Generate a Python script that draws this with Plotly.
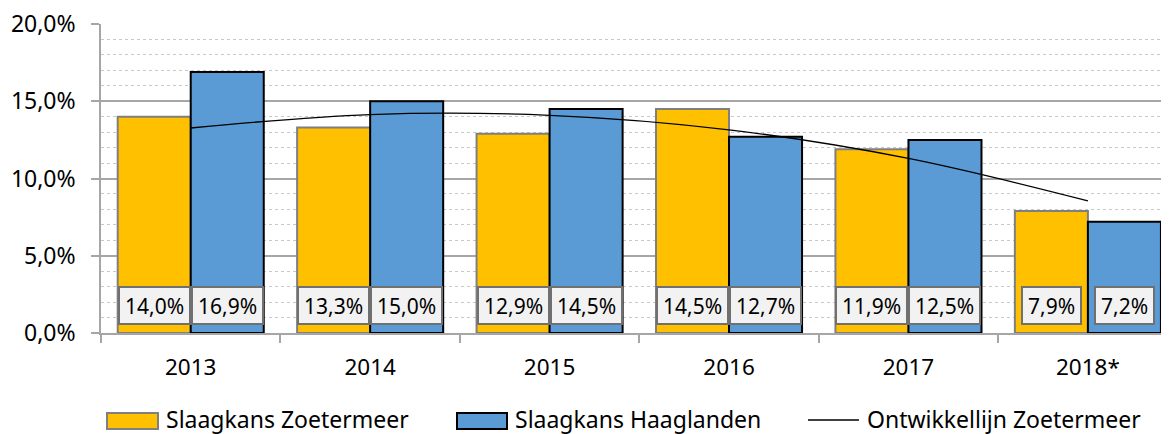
import plotly.graph_objects as go

years = ["2013", "2014", "2015", "2016", "2017", "2018*"]
zoetermeer = [14.0, 13.3, 12.9, 14.5, 11.9, 7.9]
haaglanden = [16.9, 15.0, 14.5, 12.7, 12.5, 7.2]
trend = [13.27, 14.14, 14.09, 13.15, 11.30, 8.55]
y_ticks = [0, 5, 10, 15, 20]
y_ticktext = ["0,0%", "5,0%", "10,0%", "15,0%", "20,0%"]
legend_names = ["Slaagkans Zoetermeer", "Slaagkans Haaglanden", "Ontwikkellijn Zoetermeer"]

YELLOW = "#FFC000"
BLUE = "#5B9BD5"
FONT = "Noto Sans"
FS_LABEL = 21
FS_TICK = 23
FS_YEAR = 22.5
FS_LEG = 23
BW = 0.407
LABEL_Y = 1.75

idx = list(range(len(years)))

def fmt(v):
    return f"{v:.1f}%".replace(".", ",")

fig = go.Figure()
fig.add_trace(go.Bar(x=idx, y=zoetermeer, width=BW, offset=-BW, name=legend_names[0],
                     marker=dict(color=YELLOW, line=dict(color="#7F7F7F", width=2)),
                     showlegend=False, hoverinfo="skip"))
fig.add_trace(go.Bar(x=idx, y=haaglanden, width=BW, offset=0, name=legend_names[1],
                     marker=dict(color=BLUE, line=dict(color="#000000", width=2)),
                     showlegend=False, hoverinfo="skip"))
fig.add_trace(go.Scatter(x=idx, y=trend, mode="lines", name=legend_names[2],
                         line=dict(color="#000000", width=1.3, shape="spline", smoothing=1.0),
                         showlegend=False, hoverinfo="skip"))

for i in idx:
    for val, sign in ((zoetermeer[i], -1), (haaglanden[i], 1)):
        fig.add_annotation(x=i + sign * BW / 2, y=LABEL_Y, xref="x", yref="y",
                           text=fmt(val), showarrow=False, height=25,
                           font=dict(family=FONT, size=FS_LABEL, color="#000000"),
                           bgcolor="#F2F2F2", bordercolor="#707070", borderwidth=2,
                           borderpad=5)

# The page body has an 8px margin: the figure's top-left sits at (8, 8) on the page.
# paper coords: x 0 -> 101px, 1 -> 1169px ; y 0 -> 333px, 1 -> 24px (page pixels)
def px_x(p):
    return (p - 101) / 1068.0

def px_y(p):
    return (333 - p) / 309.0

fig.add_shape(type="rect", xref="paper", yref="paper",
              x0=px_x(107), x1=px_x(158), y0=px_y(429), y1=px_y(413),
              fillcolor=YELLOW, line=dict(color="#7F7F7F", width=2))
fig.add_shape(type="rect", xref="paper", yref="paper",
              x0=px_x(457), x1=px_x(507), y0=px_y(429), y1=px_y(413),
              fillcolor=BLUE, line=dict(color="#000000", width=2))
fig.add_shape(type="line", xref="paper", yref="paper",
              x0=px_x(808), x1=px_x(859), y0=px_y(420), y1=px_y(420),
              line=dict(color="#000000", width=1.3))
for xpos, name in ((164, legend_names[0]), (513, legend_names[1]), (865, legend_names[2])):
    fig.add_annotation(x=px_x(xpos), y=px_y(419), xref="paper", yref="paper",
                       xanchor="left", yanchor="middle", text=name, showarrow=False,
                       font=dict(family=FONT, size=FS_LEG, color="#000000"))

fig.update_layout(
    width=1161, height=426,
    margin=dict(l=93, r=0, t=16, b=101),
    plot_bgcolor="white", paper_bgcolor="white",
    barmode="overlay",
    font=dict(family=FONT, size=FS_LABEL, color="#000000"),
    showlegend=False,
)
fig.update_xaxes(range=[-0.5, 5.452], tickvals=idx, ticktext=years, ticks="",
                 showgrid=False, zeroline=False,
                 showline=True, linecolor="#A6A6A6", linewidth=1.5,
                 tickfont=dict(family=FONT, size=FS_YEAR, color="#000000"),
                 ticklabelstandoff=13,
                 minor=dict(tick0=-0.5, dtick=1, ticks="outside", ticklen=8,
                            tickcolor="#A6A6A6", tickwidth=1.5, showgrid=False))
fig.update_yaxes(range=[0, 20], tickvals=y_ticks, ticktext=y_ticktext,
                 ticks="outside", ticklen=8, tickcolor="#A6A6A6", tickwidth=1.5,
                 showgrid=True, gridcolor="#A6A6A6", gridwidth=1.5,
                 zeroline=False, showline=True, linecolor="#A6A6A6", linewidth=1.5,
                 tickfont=dict(family=FONT, size=FS_TICK, color="#000000"),
                 ticklabelstandoff=11, ticklabeloverflow="allow",
                 minor=dict(dtick=1, showgrid=True, griddash="dot",
                            gridcolor="#C8C8C8", gridwidth=1, ticks=""))

fig.write_html("out.html")
